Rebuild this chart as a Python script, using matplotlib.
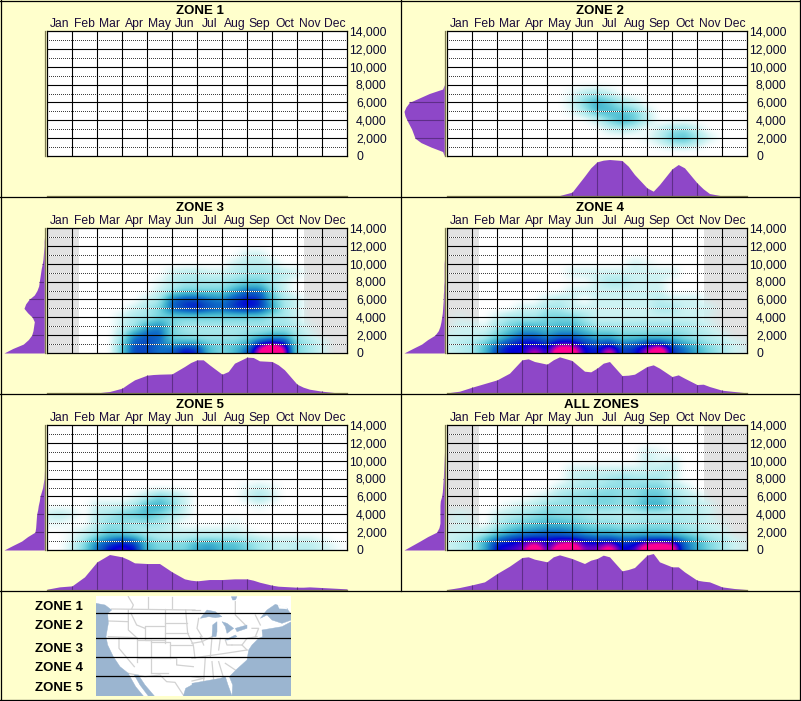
import numpy as np
import matplotlib
matplotlib.use("Agg")
import matplotlib.pyplot as plt
from matplotlib.colors import LinearSegmentedColormap
from matplotlib.patches import Polygon

W, H = 801, 701
BG = "#FFFFCC"
PURPLE = "#8E47C8"
MONTHS = ["Jan","Feb","Mar","Apr","May","Jun","Jul","Aug","Sep","Oct","Nov","Dec"]
ALT_TICKS = [0,2000,4000,6000,8000,10000,12000,14000]
ALT_LABELS = ["0","2,000","4,000","6,000","8,000","10,000","12,000","14,000"]
MONTH_NODES = [i*0.5 for i in range(25)]
ROW_ALT = [11000,10000,9000,8000,7000,6000,5000,4000,3000,2000,1200,600,0]
LEFT_ALT = [i*500 for i in range(29)]

BOTTOM_M = [0,.5,1,1.5,2,2.5,3,3.25,3.5,4,4.25,4.5,5,5.5,5.75,6,6.25,6.5,7,7.25,7.5,8,8.25,8.5,9,9.25,9.5,10,10.25,10.5,11,11.5,12]

BOTTOM_Z2 = [0,0,0,0,0,0,0,0,0,0,0,2,12,60,85,103,108,110,107,90,65,25,15,35,82,95,85,40,22,8,1,0,0]
BOTTOM_Z3 = [0,0,0,0,1,5,15,28,40,54,56,57,58,80,92,100,100,85,57,65,90,108,107,97,95,85,70,27,18,12,6,2,1]
BOTTOM_Z4 = [1,6,18,29,40,60,100,103,95,87,100,109,98,66,64,75,90,95,53,54,57,80,85,75,50,55,45,26,27,20,9,5,1]
BOTTOM_Z5 = [3,10,13,40,85,107,100,92,82,80,80,80,55,34,30,28,30,32,32,33,34,34,30,24,15,12,11,9,9,10,8,6,4]
BOTTOM_ALL = [2,8,16,25,50,72,98,100,93,85,100,106,95,80,90,95,105,100,58,62,68,105,110,85,70,70,55,30,27,25,10,5,2]

LEFT_Z2 = [0,5,40,70,88,93,98,105,112,118,121,115,105,75,45,5,0,0,0,0,0,0,0,0,0,0,0,0,0]
LEFT_Z3 = [121,95,63,48,38,34,32,30,36,50,61,56,46,30,22,17,15,13,11,9,6,4,3,2,1,1,0,0,0]
LEFT_Z4 = [121,95,68,50,28,18,13,10,8,6,5,4,3,3,2,2,1,1,1,1,1,0,0,0,0,0,0,0,0]
LEFT_Z5 = [121,95,68,50,28,26,25,24,23,20,18,15,13,9,5,3,1,.5,0,0,0,0,0,0,0,0,0,0,0]
LEFT_ALL = [121,97,73,50,23,16,13,13,13,13,13,12,8,6,5,4,3,2.5,2,1.5,1,.5,0,0,0,0,0,0,0]

GRID_Z2 = [
 [0]*25,[0]*25,[0]*25,[0]*25,
 [0,0,0,0,0,0,0,0,0,0,.5,1.5,2,1,0,0,0,0,0,0,0,0,0,0,0],
 [0,0,0,0,0,0,0,0,0,0,1,3,4.5,3.5,2,1,0,0,0,0,0,0,0,0,0],
 [0,0,0,0,0,0,0,0,0,0,.5,2,4,4,3.5,3,1,0,0,0,0,0,0,0,0],
 [0,0,0,0,0,0,0,0,0,0,0,0,1,3,4.5,3.5,1.5,0,0,0,0,0,0,0,0],
 [0,0,0,0,0,0,0,0,0,0,0,0,0,1,1.5,1,0,1,2,2.5,1,0,0,0,0],
 [0,0,0,0,0,0,0,0,0,0,0,0,0,0,0,0,.5,1.5,3.5,4,2.5,1,0,0,0],
 [0,0,0,0,0,0,0,0,0,0,0,0,0,0,0,0,0,.5,1.5,2,1,0,0,0,0],
 [0]*25,[0]*25]
GRID_Z3 = [
 [0,0,0,0,0,0,0,0,0,0,0,0,0,0,0,0,1,1,0,0,0,0,0,0,0],
 [0,0,0,0,0,0,0,0,0,0,0,0,0,0,0,1,1.5,1.5,1,0,0,0,0,0,0],
 [0,0,0,0,0,0,0,0,0,0,1,1.5,1.5,1,1,1.5,2,2,2,1.5,1,0,0,0,0],
 [0,0,0,0,0,0,0,0,0,.5,1.5,2,2,2,2,2.5,3,3,2,1,0,0,0,0,0],
 [0,0,0,0,0,0,0,0,0,1,2,3,3,3,3,4.5,6,6,3,1,0,0,0,0,0],
 [0,0,0,0,0,0,0,0,1,2,6,7,7,6,5.5,7,8,7.5,4,2,1,0,0,0,0],
 [0,0,0,0,0,0,0,1,2,3,6.5,7.5,8,7,6.5,7.5,8,7.5,5,2,1,0,0,0,0],
 [0,0,0,0,0,0,1,2,2,3,3,3,3,3,3,3,3,3,2,2,1,0,0,0,0],
 [0,0,0,0,0,0,1,2,4.5,5.5,3,2,2,2,2,2,2,2,2,2,1.5,.5,0,0,0],
 [0,0,0,0,0,0,2,5.5,6.5,6.5,3,2.5,2,2,2,2,2.5,3,4,4,2,1,0,0,0],
 [0,0,0,0,0,0,3,6.5,7,6,4,4,4,3,3,3,4,7,8,7.5,3,2,1,0,0],
 [0,0,0,0,0,0,3.5,7,7,6,6,7.5,7,4,3,4,5.5,9.5,11.5,9.5,3,2,1,0,0],
 [0,0,0,0,0,0,3.5,7,7,6,6.5,8,7.5,4,3,4,6.5,10,13,10,3,2,1,0,0]]
GRID_Z4 = [
 [0]*25,
 [0,0,0,0,0,0,0,0,0,0,0,0,0,0,0,1,.5,0,0,0,0,0,0,0,0],
 [0,0,0,0,0,0,0,0,0,0,1,1,1,1,1,1,1,1,1,0,0,0,0,0,0],
 [0,0,0,0,0,0,0,0,0,0,0,0,1,2,2,1,1,1,0,0,0,0,0,0,0],
 [0,0,0,0,0,0,0,0,0,0,1,1,1,1,1,1,1,1,0,0,0,0,0,0,0],
 [0,0,0,0,0,0,0,0,1,1.5,1,0,1,1,1,1,1,1.5,1,1,1,0,0,0,0],
 [0,0,0,0,0,0,1,1,2,2,1,1,1,1,1,1,1,2,2,1,1,1,0,0,0],
 [0,.5,0,0,1,2,2,2,3,3,3,2,1,1,1,1,1,1,1,1,1,.5,0,0,0],
 [0,1,1,.5,2,3,4,4,3.5,4,4,3,2,2,2,2,2,2,2,2,1.5,1,0,0,0],
 [1,1,1,1.5,3,4.5,6,6,5,6,6,5,4,4,3,3,3,3,3,2.5,2,1.5,1,0,0],
 [1,1.5,2,3,5,7,8,8,7,8,8,7,6,6.5,5,5.5,6.5,6.5,5.5,4,3,2,1.5,1,.5],
 [1,1.5,2,4,7,8,8,8.5,8,10,10,8,7.5,9,7,7.5,9,10.5,7.5,6,4.5,3,2,1,.5],
 [1,1.5,2,4,7,8,8,10,8,12,11.5,8,7.5,10.5,7,7.5,9.5,12,7.5,6,4.5,3,2,1,.5]]
GRID_Z5 = [
 [0]*25,[0]*25,[0]*25,[0]*25,
 [0,0,0,0,0,0,0,0,0,0,0,0,0,0,0,0,.5,1,.5,0,0,0,0,0,0],
 [0,0,0,0,0,0,0,.5,1.5,3,2,1,0,0,0,0,1,2,1,0,0,0,0,0,0],
 [0,0,0,0,1,1,1,2,4,4.5,3,1,0,0,0,0,0,.5,0,0,0,0,0,0,0],
 [1,1.5,1,0,1.5,2,3,3.5,4,3,2,1,0,0,0,0,0,0,0,0,0,0,0,0,0],
 [.5,.5,0,0,1.5,2.5,2.5,2,2.5,2,1,0,0,0,0,.5,0,0,0,0,0,0,0,0,0],
 [0,0,.5,1,2,3,2.5,2,1.5,1.5,1,1,1,1,1,1,.5,0,0,0,0,0,0,0,0],
 [0,0,.5,2,4,5.5,6.5,5.5,3,2,2,2,2.5,2.5,2.5,2.5,2,1.5,1,1,1,1,.5,0,0],
 [0,0,1,3,6,7.5,8,7.5,4,3,3,3,4.5,5,4,4,3,2,1.5,1,1.5,1.5,1,.5,0],
 [0,0,1,3,6,8,8.5,8,4,3,3,3,4.5,5,4,4,3,2,1.5,1,1.5,1.5,1,.5,0]]
GRID_ALL = [
 [0,0,0,0,0,0,0,0,0,0,0,0,0,0,0,0,1,.5,0,0,0,0,0,0,0],
 [0,0,0,0,0,0,0,0,0,0,0,0,0,0,0,0,1,.5,1,0,0,0,0,0,0],
 [0,0,0,0,0,0,0,0,0,0,1,1,1,1,1,1,1,1.5,1.5,0,0,0,0,0,0],
 [0,0,0,0,0,0,0,0,0,0,1,1.5,1.5,2,2.5,2,2,2,1,0,0,0,0,0,0],
 [0,0,0,0,0,0,0,0,0,1,1.5,2,2,2.5,2.5,2.5,3,3,2,1,0,0,0,0,0],
 [0,0,0,0,0,0,0,.5,1,2,2.5,2.5,3,3,2.5,2.5,3.5,3.5,2.5,1.5,1,0,0,0,0],
 [0,0,0,0,0,.5,1,1.5,2.5,2.5,2.5,2.5,3,3,2.5,3,4.5,4.5,3,2,1.5,1,0,0,0],
 [.5,1,.5,0,1,1.5,2,2.5,3,2.5,2.5,2,1.5,1.5,1.5,1.5,1.5,1.5,1.5,1.5,1.5,1,0,0,0],
 [0,1,.5,0,1.5,2.5,3,3.5,4,4,3.5,3,2.5,2.5,2,2,2.5,2.5,2.5,2,1.5,1,.5,0,0],
 [1,1,1,1.5,3,4,5,5.5,6,6,5.5,4.5,4,4,3.5,3.5,3.5,3.5,3,2.5,2,1.5,1,0,0],
 [1,1.5,2,4,6,7.5,8,8,8,8,8,7.5,7,7,6.5,6.5,7,7,7,5.5,4,2.5,2,1,.5],
 [1,1.5,2,4.5,8,8,8.5,10,8,10,10.5,8.5,8.5,9.5,7.5,8,10,10.5,10,6.5,4.5,3,2,1,.5],
 [1,1.5,2,4.5,8,8.5,9,12,8.5,11.5,12,9,9,11,8,8.5,11.5,12,11,6.5,4.5,3,2,1,.5]]

ZONES = [
 ("ZONE 1", None, None, None, False),
 ("ZONE 2", GRID_Z2, BOTTOM_Z2, LEFT_Z2, False),
 ("ZONE 3", GRID_Z3, BOTTOM_Z3, LEFT_Z3, True),
 ("ZONE 4", GRID_Z4, BOTTOM_Z4, LEFT_Z4, True),
 ("ZONE 5", GRID_Z5, BOTTOM_Z5, LEFT_Z5, False),
 ("ALL ZONES", GRID_ALL, BOTTOM_ALL, LEFT_ALL, True),
]
MAP_ZONE_LABELS = ["ZONE 1","ZONE 2","ZONE 3","ZONE 4","ZONE 5"]
MAP_LABEL_Y = [609.5,629,651.5,671,691]
MAP_BAND_Y = [613.3,637.5,656.7,676.3]

plt.rcParams["font.family"] = ["Liberation Sans", "DejaVu Sans"]
fig = plt.figure(figsize=(W/100, H/100), dpi=100, facecolor=BG)

cmap = LinearSegmentedColormap.from_list("heat", [
 (0/10, (0.80,0.95,0.95,0.0)),
 (1/10, (0.80,0.95,0.95,1.0)),
 (2/10, "#A8E8EC"),
 (3/10, "#7AD6E0"),
 (4/10, "#4CBCD2"),
 (5/10, "#2C9CC8"),
 (6/10, "#1070C8"),
 (7/10, "#0848C0"),
 (8/10, "#0000D8"),
 (9/10, "#8000C0"),
 (10/10, "#FF0090"),
])

def ax_px(x0, y0, x1, y1, **kw):
    return fig.add_axes([x0/W, 1-y1/H, (x1-x0)/W, (y1-y0)/H], **kw)

def refine(grid):
    a = np.array(grid, float)[::-1]
    alts = np.r_[np.array(ROW_ALT[::-1], float), 12000.0]
    a = np.vstack([a, np.zeros(25)])
    fy = np.linspace(0, 14000, 251)
    fx = np.linspace(0, 12, 601)
    tmp = np.array([np.interp(fy, alts, a[:, j], right=0) for j in range(25)]).T
    fine = np.array([np.interp(fx, MONTH_NODES, r) for r in tmp])
    k = np.array([np.exp(-0.5*(i/6.0)**2) for i in range(-16, 17)])
    k /= k.sum()
    pad = 16
    p = np.pad(fine, pad, mode="edge")
    p = np.apply_along_axis(lambda v: np.convolve(v, k, "same"), 1, p)
    p = np.apply_along_axis(lambda v: np.convolve(v, k, "same"), 0, p)
    return p[pad:-pad, pad:-pad]

for idx, (title, grid, bottom, left, band) in enumerate(ZONES):
    ox = 400 * (idx % 2)
    oy = 197 * (idx // 2)
    ax = ax_px(ox+47, oy+31, ox+347, oy+156)
    ax.set_xlim(0, 12); ax.set_ylim(0, 14000)
    ax.set_facecolor("white")
    if band:
        ax.axvspan(0, 1.27, color="#E2E2E2", lw=0, zorder=0)
        ax.axvspan(10.28, 12, color="#E2E2E2", lw=0, zorder=0)
    if grid is not None:
        ax.imshow(refine(grid), extent=(0, 12, 0, 14000), origin="lower", aspect="auto",
                  cmap=cmap, vmin=0, vmax=10, interpolation="bilinear", zorder=1)
    for y in range(1000, 14000, 2000):
        ax.axhline(y, color="white", lw=0.72, zorder=2)
        ax.axhline(y, color="#404040", lw=0.72, ls=(0.5, (1, 1)), zorder=2.1)
    for y in range(2000, 14000, 2000):
        ax.axhline(y, color="black", lw=0.8, zorder=3)
    for m in range(1, 12):
        ax.axvline(m, color="black", lw=0.8, zorder=3)
    for s in ax.spines.values():
        s.set_linewidth(0.9); s.set_zorder(4)
    ax.set_xticks([]); ax.set_yticks([])

    tx = 201 if title == "ALL ZONES" else 199.7
    fig.text((ox+tx)/W, 1-(oy+13.7)/H, title, ha="center", va="baseline",
             fontsize=9.5, fontweight="bold", color="black")
    for m, name in enumerate(MONTHS):
        fig.text((ox+47+25*(m+0.5))/W, 1-(oy+26.7)/H, name, ha="center", va="baseline",
                 fontsize=8.7, color="#1A0A3A")
    for val, lab in zip(ALT_TICKS, ALT_LABELS):
        py = 156 - val/14000*125
        if val == 0:
            fig.text((ox+356.5)/W, 1-(oy+160)/H, lab, ha="left", va="baseline", fontsize=8.8, color="#0A0A30")
        else:
            fig.text((ox+386.7)/W, 1-(oy+py+4.3)/H, lab, ha="right", va="baseline", fontsize=8.8, color="#0A0A30")

    # left density
    lax = ax_px(ox+4, oy+31, ox+44.3, oy+156)
    lax.set_xlim(121, 0); lax.set_ylim(0, 14000); lax.axis("off")
    lax.patch.set_alpha(0)
    if left is not None:
        lax.fill_betweenx(LEFT_ALT, 0, left, color=PURPLE, lw=0)
        for y in range(2000, 14000, 2000):
            v = float(np.interp(y, LEFT_ALT, left))
            if v > 0:
                lax.hlines(y, 0, v, color="#5E2E88", lw=0.8)
    # bottom density
    bax = ax_px(ox+47, oy+159.5, ox+347, oy+196.2)
    bax.set_xlim(0, 12); bax.set_ylim(0, 110); bax.axis("off")
    bax.patch.set_alpha(0)
    if bottom is not None:
        bax.fill_between(BOTTOM_M, 0, bottom, color=PURPLE, lw=0)
        for m in range(1, 12):
            v = float(np.interp(m, BOTTOM_M, bottom))
            if v > 0:
                bax.vlines(m, 0, v, color="#5E2E88", lw=0.8)
    # baseline rules
    fig.add_artist(plt.Line2D([(ox+47)/W, (ox+347)/W], [1-(oy+196)/H]*2, color="#7D7A50", lw=0.9))
    fig.add_artist(plt.Line2D([(ox+44.5)/W]*2, [1-(oy+31)/H, 1-(oy+156)/H], color="#7D7A50", lw=0.9))

# panel borders
for x in [0.5, 400.5, 800.2]:
    y1 = 591 if x == 400.5 else 701
    fig.add_artist(plt.Line2D([x/W, x/W], [1, 1-y1/H], color="black", lw=0.9))
for y in [0.5, 197, 394, 591, 700.3]:
    fig.add_artist(plt.Line2D([0, 1], [1-y/H]*2, color="black", lw=0.9))

# map key
for lab, y in zip(MAP_ZONE_LABELS, MAP_LABEL_Y):
    fig.text(83/W, 1-y/H, lab, ha="right", va="baseline", fontsize=9.5, fontweight="bold", color="black")

OCEAN = "#9BB5D0"
PACIFIC = [(3,25),(30,30),(50,45),(38,55),(40,85),(33,125),(38,150),(55,185),(75,215),(100,235),(105,245),(122,275),(145,303),(3,303)]
CALIF_GULF = [(118,240),(130,240),(150,270),(178,303),(160,303),(135,270)]
GULF_L = [(265,303),(272,280),(300,265),(300,303)]
GULF_R = [(0,265),(40,258),(85,250),(100,245),(108,270),(120,303),(0,303)]
ATLANTIC = [(120,303),(122,270),(112,245),(135,222),(165,195),(170,165),(180,150),(200,130),(212,125),(210,105),(240,100),(270,95),(298,80),(298,303)]
ST_LAWRENCE = [(205,70),(225,45),(250,28),(285,40),(298,60),(298,75),(270,85),(240,75),(225,60)]
NEWFOUNDLAND = [(258,30),(280,35),(285,42),(262,40)]
LAKES = [
 [(25,70),(45,45),(70,50),(90,65),(70,68),(50,65)],
 [(60,125),(62,90),(75,80),(75,110),(72,125)],
 [(90,80),(105,85),(125,100),(105,115),(100,95)],
 [(100,135),(130,120),(135,125),(108,135)],
 [(130,100),(165,90),(165,100),(135,110)],
 [(118,5),(135,5),(130,15),(122,15)],
]
LINES_W = [
 [(50,42),(300,45)],[(40,78),(100,80)],[(40,125),(125,128)],[(108,55),(125,90),(150,100)],
 [(100,45),(100,105),(125,128)],[(150,92),(210,92)],[(210,42),(210,145)],[(210,85),(275,85)],[(210,115),(278,115)],
 [(272,45),(278,115),(295,150),(300,190)],[(150,95),(150,135),(210,135)],[(125,128),(125,200)],[(72,128),(72,160),(118,215)],
 [(125,135),(168,135)],[(168,135),(168,235)],[(125,190),(225,190)],[(168,140),(225,140),(225,190)],[(168,235),(218,235)],
 [(225,150),(290,150)],[(225,190),(245,190),(245,210),(295,215)],[(100,235),(150,245),(195,240),(215,260),(240,262),(265,300)],
 [(100,5),(115,30),(110,42)],[(160,5),(160,40)],[(232,5),(232,40)],
]
LINES_E = [
 [(0,45),(25,45)],[(20,70),(15,100),(30,125)],[(0,145),(30,140),(60,125)],[(60,125),(55,185)],[(85,130),(80,165)],
 [(100,135),(105,150),(120,150)],[(25,125),(35,150)],[(0,190),(30,185),(100,175),(165,165)],[(40,185),(35,260)],
 [(60,200),(65,255)],[(80,200),(95,250)],[(0,245),(35,250)],[(150,150),(165,130),(195,125)],[(180,100),(200,100),(190,125)],
 [(205,90),(190,60)],[(130,20),(130,60),(160,90)],[(0,258),(35,250)],[(120,150),(150,150),(165,165)],[(100,205),(130,225)],
]

mp = ax_px(96, 596, 291, 696)
mp.set_xlim(96, 291); mp.set_ylim(696, 596); mp.set_facecolor("white")
mp.set_xticks([]); mp.set_yticks([])
for s in mp.spines.values():
    s.set_visible(False)
zw = lambda pts: [(95+x/3, 595+y/3) for x, y in pts]
ze = lambda pts: [(192+x/3, 595+y/3) for x, y in pts]
for pts in LINES_W:
    mp.plot(*zip(*zw(pts)), color="#D2D2D2", lw=0.9, zorder=1)
for pts in LINES_E:
    mp.plot(*zip(*ze(pts)), color="#D2D2D2", lw=0.9, zorder=1)
for pts in [PACIFIC, CALIF_GULF, GULF_L]:
    mp.add_patch(Polygon(zw(pts), closed=True, fc=OCEAN, ec=OCEAN, lw=0.3, zorder=2))
for pts in [GULF_R, ATLANTIC, ST_LAWRENCE] + LAKES:
    mp.add_patch(Polygon(ze(pts), closed=True, fc=OCEAN, ec=OCEAN, lw=0.3, zorder=2))
mp.add_patch(Polygon(ze(NEWFOUNDLAND), closed=True, fc="white", ec="white", lw=0.3, zorder=2.5))
for y in MAP_BAND_Y:
    mp.axhline(y, color="black", lw=0.9, zorder=3)

fig.savefig("out.png", dpi=100, facecolor=BG)
